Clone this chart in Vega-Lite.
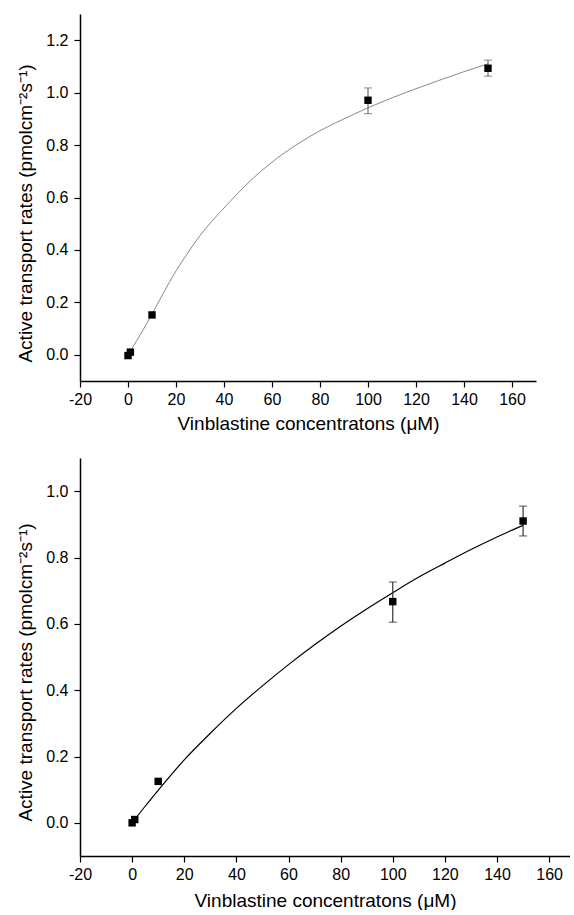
{
  "$schema": "https://vega.github.io/schema/vega-lite/v6.json",
  "background": "white",
  "padding": {"left": 16, "top": 14, "right": 0, "bottom": 0},
  "spacing": 25,
  "config": {
    "view": {"stroke": null},
    "font": "Liberation Sans",
    "axis": {
      "grid": false,
      "domainColor": "black",
      "domainWidth": 1.5,
      "tickColor": "black",
      "tickWidth": 1.2,
      "labelColor": "black",
      "titleColor": "black",
      "labelFont": "Liberation Sans",
      "titleFont": "Liberation Sans",
      "labelFontSize": 16,
      "titleFontSize": 19,
      "titleFontWeight": "normal",
      "labelOverlap": false,
      "labelFlush": false
    }
  },
  "datasets": {
    "points": [
      {"panel": "A", "x": 0, "y": -0.003, "lo": null, "hi": null},
      {"panel": "A", "x": 1, "y": 0.01, "lo": null, "hi": null},
      {"panel": "A", "x": 10, "y": 0.152, "lo": null, "hi": null},
      {"panel": "A", "x": 100, "y": 0.971, "lo": 0.92, "hi": 1.018},
      {"panel": "A", "x": 150, "y": 1.093, "lo": 1.063, "hi": 1.124},
      {"panel": "B", "x": 0, "y": 0.0, "lo": null, "hi": null},
      {"panel": "B", "x": 1, "y": 0.01, "lo": null, "hi": null},
      {"panel": "B", "x": 10, "y": 0.125, "lo": null, "hi": null},
      {"panel": "B", "x": 100, "y": 0.667, "lo": 0.605, "hi": 0.726},
      {"panel": "B", "x": 150, "y": 0.91, "lo": 0.865, "hi": 0.955}
    ],
    "curves": [
      {"panel": "A", "x": 0, "y": 0.0},
      {"panel": "A", "x": 5, "y": 0.075},
      {"panel": "A", "x": 10, "y": 0.155},
      {"panel": "A", "x": 15, "y": 0.24},
      {"panel": "A", "x": 20, "y": 0.32},
      {"panel": "A", "x": 25, "y": 0.39},
      {"panel": "A", "x": 30, "y": 0.455},
      {"panel": "A", "x": 35, "y": 0.51},
      {"panel": "A", "x": 40, "y": 0.56},
      {"panel": "A", "x": 50, "y": 0.655},
      {"panel": "A", "x": 60, "y": 0.735},
      {"panel": "A", "x": 70, "y": 0.8},
      {"panel": "A", "x": 80, "y": 0.855},
      {"panel": "A", "x": 90, "y": 0.9},
      {"panel": "A", "x": 100, "y": 0.942},
      {"panel": "A", "x": 110, "y": 0.98},
      {"panel": "A", "x": 120, "y": 1.015},
      {"panel": "A", "x": 130, "y": 1.048},
      {"panel": "A", "x": 140, "y": 1.08},
      {"panel": "A", "x": 150, "y": 1.11},
      {"panel": "B", "x": 1, "y": 0.01},
      {"panel": "B", "x": 5, "y": 0.05},
      {"panel": "B", "x": 10, "y": 0.098},
      {"panel": "B", "x": 20, "y": 0.19},
      {"panel": "B", "x": 30, "y": 0.27},
      {"panel": "B", "x": 40, "y": 0.345},
      {"panel": "B", "x": 50, "y": 0.413},
      {"panel": "B", "x": 60, "y": 0.477},
      {"panel": "B", "x": 70, "y": 0.537},
      {"panel": "B", "x": 80, "y": 0.593},
      {"panel": "B", "x": 90, "y": 0.645},
      {"panel": "B", "x": 100, "y": 0.694},
      {"panel": "B", "x": 110, "y": 0.741},
      {"panel": "B", "x": 120, "y": 0.783},
      {"panel": "B", "x": 130, "y": 0.824},
      {"panel": "B", "x": 140, "y": 0.862},
      {"panel": "B", "x": 150, "y": 0.897}
    ]
  },
  "vconcat": [
    {
      "width": 456,
      "height": 367,
      "layer": [
        {
          "data": {"name": "curves"},
          "transform": [{"filter": "datum.panel === 'A'"}],
          "mark": {"type": "line", "color": "#8a8a8a", "strokeWidth": 1, "interpolate": "monotone"},
          "encoding": {
            "x": {
              "field": "x", "type": "quantitative",
              "title": "Vinblastine concentratons (μM)",
              "scale": {"domain": [-20, 170], "nice": false, "zero": false},
              "axis": {
                "values": [-20, -10, 0, 10, 20, 30, 40, 50, 60, 70, 80, 90, 100, 110, 120, 130, 140, 150, 160, 170],
                "labelExpr": "datum.value % 20 === 0 ? '' + datum.value : ''",
                "tickSize": {"condition": {"test": "datum.value % 20 === 0", "value": 6}, "value": 3},
                "labelOverlap": false,
                "labelPadding": 4,
                "titlePadding": 7
              }
            },
            "y": {
              "field": "y", "type": "quantitative",
              "title": "Active transport rates (pmolcm⁻²s⁻¹)",
              "scale": {"domain": [-0.1, 1.3], "nice": false, "zero": false},
              "axis": {
                "values": [0, 0.2, 0.4, 0.6, 0.8, 1.0, 1.2],
                "format": ".1f",
                "tickSize": 6,
                "labelOverlap": false,
                "labelPadding": 6,
                "titlePadding": 10,
                "titleY": 199
              }
            }
          }
        },
        {
          "data": {"name": "points"},
          "transform": [{"filter": "datum.panel === 'A' && datum.hi != null"}],
          "mark": {"type": "errorbar", "color": "#6e6e6e", "thickness": 1.2, "ticks": {"size": 8, "color": "#6e6e6e"}},
          "encoding": {
            "x": {"field": "x", "type": "quantitative", "title": "Vinblastine concentratons (μM)"},
            "y": {"field": "lo", "type": "quantitative", "title": "Active transport rates (pmolcm⁻²s⁻¹)"},
            "y2": {"field": "hi"}
          }
        },
        {
          "data": {"name": "points"},
          "transform": [{"filter": "datum.panel === 'A'"}],
          "mark": {"type": "point", "shape": "square", "filled": true, "size": 55, "color": "black", "opacity": 1},
          "encoding": {
            "x": {"field": "x", "type": "quantitative", "title": "Vinblastine concentratons (μM)"},
            "y": {"field": "y", "type": "quantitative", "title": "Active transport rates (pmolcm⁻²s⁻¹)"}
          }
        },
        {
          "mark": {"type": "text", "text": "A", "fontSize": 19, "font": "Liberation Sans", "color": "black"},
          "encoding": {"x": {"datum": 8}, "y": {"datum": 1.225}}
        }
      ]
    },
    {
      "width": 490,
      "height": 398,
      "layer": [
        {
          "data": {"name": "curves"},
          "transform": [{"filter": "datum.panel === 'B'"}],
          "mark": {"type": "line", "color": "black", "strokeWidth": 1.2, "interpolate": "monotone"},
          "encoding": {
            "x": {
              "field": "x", "type": "quantitative",
              "title": "Vinblastine concentratons (μM)",
              "scale": {"domain": [-20, 168], "nice": false, "zero": false},
              "axis": {
                "values": [-20, -10, 0, 10, 20, 30, 40, 50, 60, 70, 80, 90, 100, 110, 120, 130, 140, 150, 160],
                "labelExpr": "datum.value % 20 === 0 ? '' + datum.value : ''",
                "tickSize": {"condition": {"test": "datum.value % 20 === 0", "value": 6}, "value": 3},
                "labelOverlap": false,
                "labelPadding": 4,
                "titlePadding": 9
              }
            },
            "y": {
              "field": "y", "type": "quantitative",
              "title": "Active transport rates (pmolcm⁻²s⁻¹)",
              "scale": {"domain": [-0.1, 1.1], "nice": false, "zero": false},
              "axis": {
                "values": [0, 0.2, 0.4, 0.6, 0.8, 1.0],
                "format": ".1f",
                "tickSize": 6,
                "labelOverlap": false,
                "labelPadding": 6,
                "titlePadding": 10,
                "titleY": 214
              }
            }
          }
        },
        {
          "data": {"name": "points"},
          "transform": [{"filter": "datum.panel === 'B' && datum.hi != null"}],
          "mark": {"type": "errorbar", "color": "#333333", "thickness": 1.2, "ticks": {"size": 8, "color": "#333333"}},
          "encoding": {
            "x": {"field": "x", "type": "quantitative", "title": "Vinblastine concentratons (μM)"},
            "y": {"field": "lo", "type": "quantitative", "title": "Active transport rates (pmolcm⁻²s⁻¹)"},
            "y2": {"field": "hi"}
          }
        },
        {
          "data": {"name": "points"},
          "transform": [{"filter": "datum.panel === 'B'"}],
          "mark": {"type": "point", "shape": "square", "filled": true, "size": 55, "color": "black", "opacity": 1},
          "encoding": {
            "x": {"field": "x", "type": "quantitative", "title": "Vinblastine concentratons (μM)"},
            "y": {"field": "y", "type": "quantitative", "title": "Active transport rates (pmolcm⁻²s⁻¹)"}
          }
        },
        {
          "mark": {"type": "text", "text": "B", "fontSize": 19, "font": "Liberation Sans", "color": "black"},
          "encoding": {"x": {"datum": 4}, "y": {"datum": 1.03}}
        }
      ]
    }
  ]
}
